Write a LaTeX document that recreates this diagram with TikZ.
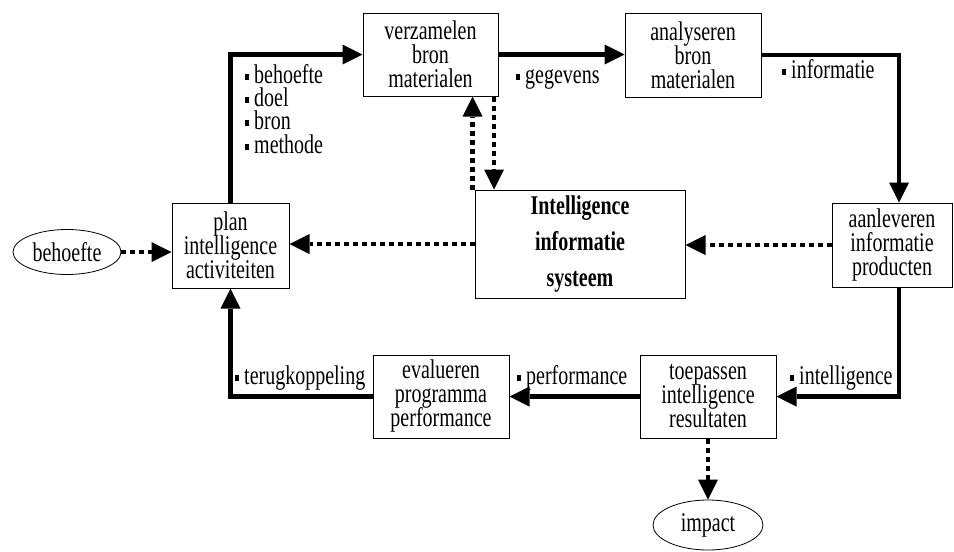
\documentclass[tikz,border=0pt]{standalone}
\usepackage{fontspec}
\setmainfont{Liberation Serif}
\usepackage{graphicx}
\usetikzlibrary{arrows.meta,shapes.geometric,calc}
\newcommand\vst[1]{\scalebox{1}[1.35]{#1}}
\newcommand\bul{\rule[2.5pt]{4pt}{4pt}\hspace{5pt}}
\setlength{\lineskiplimit}{-30pt}
\begin{document}
\begin{tikzpicture}[x=1pt,y=-1pt,
  box/.style={draw,line width=1pt,inner sep=0pt,align=center,font=\fontsize{20}{24}\selectfont},
  oval/.style={draw,ellipse,line width=0.8pt,inner sep=0pt,font=\fontsize{20}{24}\selectfont},
  lbl/.style={anchor=base west,inner sep=0pt,font=\fontsize{20}{24}\selectfont},
  flow/.style={line width=4.5pt,-{Triangle[length=20pt,width=20pt,line width=0pt]}},
  info/.style={flow,dash pattern=on 5pt off 4pt},
]
\useasboundingbox[fill=white] (0,0) rectangle (954,552);
\node[box,minimum width=117pt,minimum height=85pt] (plan) at (230.5,245.5) {\vst{plan}\\\vst{intelligence}\\\vst{activiteiten}};
\node[box,minimum width=135pt,minimum height=83pt] (verz) at (430.5,54.5) {\vst{verzamelen}\\\vst{bron}\\\vst{materialen}};
\node[box,minimum width=136pt,minimum height=84pt] (anal) at (693,55) {\vst{analyseren}\\\vst{bron}\\\vst{materialen}};
\node[box,minimum width=120pt,minimum height=84pt] (aanl) at (892,245) {\vst{aanleveren}\\\vst{informatie}\\\vst{producten}};
\node[box,minimum width=210pt,minimum height=108pt,font=\bfseries\fontsize{20}{36}\selectfont] (intel) at (580,244) {\vst{Intelligence}\\\vst{informatie}\\\vst{systeem}};
\node[box,minimum width=136pt,minimum height=83pt] (eval) at (441,396.5) {\vst{evalueren}\\\vst{programma}\\\vst{performance}};
\node[box,minimum width=136pt,minimum height=83pt] (toep) at (708,396.5) {\vst{toepassen}\\\vst{intelligence}\\\vst{resultaten}};
\node[oval,minimum width=108pt,minimum height=45pt] (beh) at (67,252) {\vst{behoefte}};
\node[oval,minimum width=110pt,minimum height=50pt] (imp) at (708,525) {\vst{impact}};

\node[lbl] (lbeh) at (245,83) {\vst{\bul behoefte}};
\node[lbl] (ldoel) at (245,106) {\vst{\bul doel}};
\node[lbl] (lbron) at (245,129) {\vst{\bul bron}};
\node[lbl] (lmeth) at (245,153) {\vst{\bul methode}};
\node[lbl] (lgeg) at (516,83) {\vst{\bul gegevens}};
\node[lbl] (linf) at (782,78) {\vst{\bul informatie}};
\node[lbl] (lterug) at (235,384) {\vst{\bul terugkoppeling}};
\node[lbl] (lperf) at (517,384) {\vst{\bul performance}};
\node[lbl] (lint) at (790,384) {\vst{\bul intelligence}};

\draw[flow] (plan.north) |- (verz.west);
\draw[flow] (verz.east) -- (verz.east -| anal.west);
\draw[flow] (anal.east) -| ([xshift=7pt]aanl.north);
\draw[info] (aanl.west) -- (aanl.west -| intel.east);
\draw[info] (intel.west) -- (intel.west -| plan.east);
\draw[info] (beh.east) -- (beh.east -| plan.west);
\draw[flow] ([xshift=7pt]aanl.south) |- (toep.east);
\draw[flow] (toep.west) -- (eval.east);
\draw[flow] (eval.west) -| (plan.south);
\draw[info] (toep.south) -- (imp.north);
\draw[info] ([xshift=-2pt]intel.north west) -- ([xshift=-2pt]intel.north west |- verz.south);
\draw[info] ([xshift=-4.5pt]verz.south east) -- ([xshift=-4.5pt]verz.south east |- intel.north);
\end{tikzpicture}
\end{document}
